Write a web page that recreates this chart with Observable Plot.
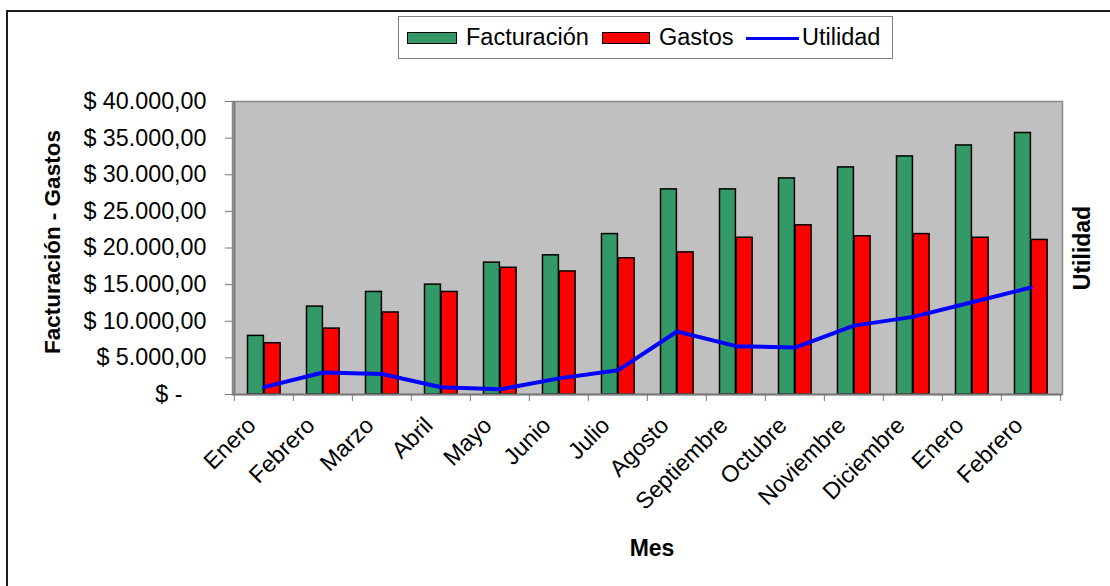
<!DOCTYPE html>
<html>
<head>
<meta charset="utf-8">
<script src="https://cdn.jsdelivr.net/npm/d3@7"></script>
<script src="https://cdn.jsdelivr.net/npm/@observablehq/plot@0.6"></script>
<style>
  html, body { margin: 0; padding: 0; background: #fff; }
  #wrap { position: relative; width: 1110px; height: 586px; overflow: hidden; font-family: "Liberation Sans", Arial, sans-serif; color: #000; }
  #border { position: absolute; left: 6px; top: 10px; right: -20px; bottom: -20px; border: 2.5px solid #1e1e1e; }
  #chart { position: absolute; left: 0; top: 0; }
  #legend { position: absolute; left: 398px; top: 16px; width: 493px; height: 41px; border: 1px solid #7f7f7f; background: #fff; }
  .sw { position: absolute; height: 10px; border: 1.5px solid #000; box-sizing: content-box; }
  .lt { position: absolute; font-size: 23.5px; line-height: 26px; white-space: nowrap; }
  .ln { position: absolute; height: 3px; background: #0000ff; }
  .title { position: absolute; font-weight: bold; font-size: 22.5px; line-height: 1; white-space: nowrap; transform: translate(-50%, -50%); }
</style>
</head>
<body>
<div id="wrap">
  <div id="border"></div>
  <div id="chart"></div>
  <div id="legend"></div>
  <div class="title" id="ytitle" style="left:53.3px; top:241.7px; transform: translate(-50%,-50%) rotate(-90deg);"></div>
  <div class="title" id="rtitle" style="left:1081.5px; top:247.5px; font-size:23px; transform: translate(-50%,-50%) rotate(-90deg);"></div>
  <div class="title" id="xtitle" style="left:652px; top:548.3px; font-size:23px;"></div>
</div>
<script>
const months = ["Enero","Febrero","Marzo","Abril","Mayo","Junio","Julio","Agosto","Septiembre","Octubre","Noviembre","Diciembre","Enero","Febrero"];
const facturacion = [8000,12000,14000,15000,18000,19000,21900,28000,28000,29500,31000,32500,34000,35700];
const gastos = [7000,9000,11200,14000,17300,16800,18600,19400,21400,23100,21600,21900,21400,21100];
const utilidad = [1000,3000,2800,1000,700,2200,3300,8600,6600,6400,9400,10600,12600,14600];
const yTicks = [0,5000,10000,15000,20000,25000,30000,35000,40000];
const seriesNames = ["Facturación","Gastos","Utilidad"];
const seriesColors = ["#339966","#ff0000","#0000ff"];
const axisTitles = {y: "Facturación - Gastos", y2: "Utilidad", x: "Mes"};

const idx = months.map((m, i) => i);
const rows = idx.map(i => ({i, mes: months[i], facturacion: facturacion[i], gastos: gastos[i], utilidad: utilidad[i]}));

const W = 1110, H = 586;
const mL = 232, mR = 48, mT = 101, mB = 192;
const bw = (W - mL - mR) / months.length;

const fmtNum = v => "$ " + d3.format(",.2f")(v).replace(/,/g, "X").replace(/\./g, ",").replace(/X/g, ".");

const chart = Plot.plot({
  width: W, height: H,
  marginLeft: mL, marginRight: mR, marginTop: mT, marginBottom: mB,
  x: {type: "band", domain: idx, paddingInner: 0, paddingOuter: 0},
  y: {domain: [0, 40000]},
  style: {fontFamily: '"Liberation Sans", Arial, sans-serif', fontSize: "23.3px", color: "#000", background: "transparent", overflow: "visible"},
  marks: [
    Plot.frame({fill: "#c0c0c0", stroke: "#8a8a8a", strokeWidth: 1.5}),
    Plot.barY(rows, {x: "i", y: "facturacion", fill: seriesColors[0], stroke: "#000", strokeWidth: 1.5, insetLeft: 13.5, insetRight: 29.6}),
    Plot.barY(rows, {x: "i", y: "gastos", fill: seriesColors[1], stroke: "#000", strokeWidth: 1.5, insetLeft: 30.2, insetRight: 12.9}),
    Plot.ruleY([0], {stroke: "#7a7a7a", strokeWidth: 2}),
    Plot.ruleX([0], {x: d => d, dx: -bw / 2, stroke: "#7a7a7a", strokeWidth: 2}),
    Plot.line(rows, {x: "i", y: "utilidad", stroke: seriesColors[2], strokeWidth: 4, strokeLinejoin: "round"}),
    Plot.axisY(yTicks, {tickSize: 7, tickPadding: 19, stroke: "#7a7a7a", fill: "#000", label: null, tickFormat: v => v === 0 ? "" : fmtNum(v)}),
    Plot.axisY([0], {tickSize: 0, tickPadding: 50, fill: "#000", label: null, tickFormat: () => "$ -"}),
    Plot.axisX(idx, {tickSize: 7, dx: -bw / 2, stroke: "#7a7a7a", label: null, tickFormat: () => ""}),
    Plot.axisX([idx[idx.length - 1]], {tickSize: 7, dx: bw / 2, stroke: "#7a7a7a", label: null, tickFormat: () => ""}),
    Plot.axisX(idx, {tickSize: 0, tickPadding: 27, dx: -12, tickRotate: -45, fill: "#000", label: null, tickFormat: i => months[i]})
  ]
});
document.getElementById("chart").appendChild(chart);

// legend
const legend = document.getElementById("legend");
const L0 = 399, T0 = 17; // legend inner origin (page coords)
function addEl(cls, left, top, w, extra) {
  const e = document.createElement("div");
  e.className = cls;
  e.style.left = (left - L0) + "px";
  e.style.top = (top - T0) + "px";
  if (w != null) e.style.width = w + "px";
  if (extra) Object.assign(e.style, extra);
  legend.appendChild(e);
  return e;
}
addEl("sw", 407, 31.5, 48, {background: seriesColors[0]});
addEl("lt", 466, 24.2).textContent = seriesNames[0];
addEl("sw", 602, 31.5, 46, {background: seriesColors[1]});
addEl("lt", 659, 24.2).textContent = seriesNames[1];
addEl("ln", 746, 36.8, 53);
addEl("lt", 802, 24.2).textContent = seriesNames[2];

document.getElementById("ytitle").textContent = axisTitles.y;
document.getElementById("rtitle").textContent = axisTitles.y2;
document.getElementById("xtitle").textContent = axisTitles.x;
</script>
</body>
</html>
